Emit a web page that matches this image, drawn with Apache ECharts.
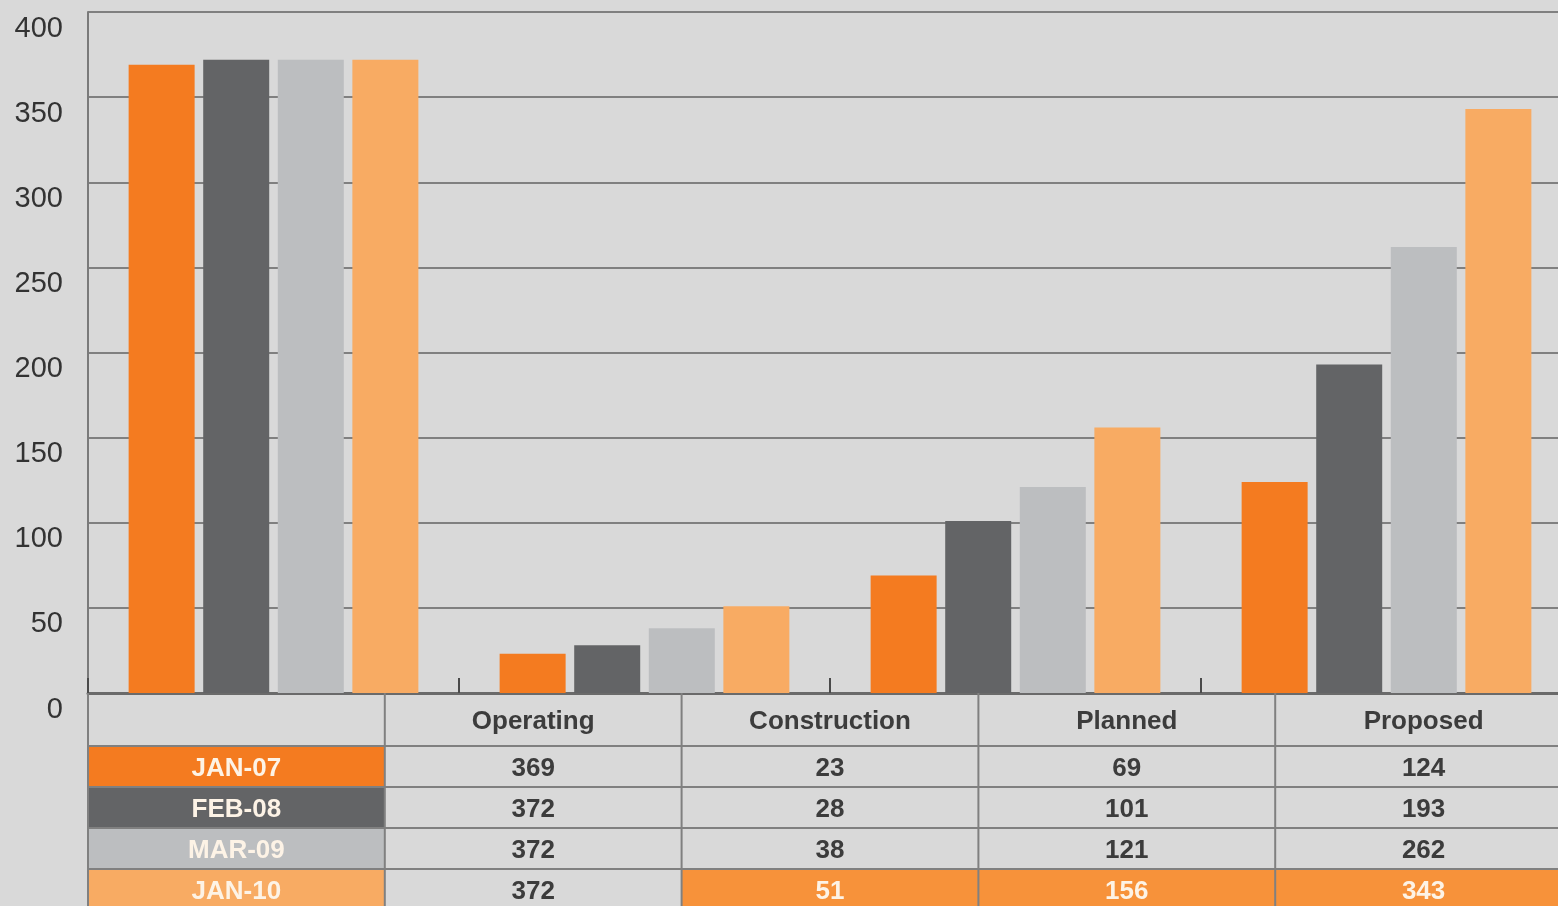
<!DOCTYPE html>
<html>
<head>
<meta charset="utf-8">
<script src="https://cdn.jsdelivr.net/npm/echarts@6/dist/echarts.min.js"></script>
<style>
  html, body { margin: 0; padding: 0; background: #d9d9d9; }
  #chart { width: 1558px; height: 906px; }
</style>
</head>
<body>
<div id="chart"></div>
<script>
// Project counts by status, four survey dates
const categories = ['Operating', 'Construction', 'Planned', 'Proposed'];
const periods = ['JAN-07', 'FEB-08', 'MAR-09', 'JAN-10'];
const jan07 = [369, 23, 69, 124];
const feb08 = [372, 28, 101, 193];
const mar09 = [372, 38, 121, 262];
const jan10 = [372, 51, 156, 343];
const yMin = 0;
const yMax = 400;
const yStep = 50;

const seriesValues = [jan07, feb08, mar09, jan10];
const colors = ['#f47b20', '#636466', '#bcbec0', '#f8ab63'];
const highlightFill = '#f7923a';

// Layout: the plot runs a little past the right edge of the canvas
const W = 1558, H = 906;
const grid = { left: 88, top: 12, width: 1484, bottom: 213 };
const plotLeft = grid.left;
const plotRight = grid.left + grid.width;
const plotBottom = H - grid.bottom;
const colW = (plotRight - plotLeft) / (categories.length + 1);
const headerH = 53;
const rowH = 41;
const FONT = '"Liberation Sans", Arial, Helvetica, sans-serif';
const gridColor = '#808080';
const textDark = '#3c3c3c';

// Data table drawn under the plot
const graphics = [];
const rowTop = i => plotBottom + headerH + i * rowH;
const colLeft = j => plotLeft + j * colW;
const isGrowth = j => jan10[j] > mar09[j];

periods.forEach((p, i) => {
  // coloured period label cell
  graphics.push({
    type: 'rect', z: 1,
    shape: { x: colLeft(0), y: rowTop(i), width: colW, height: rowH },
    style: { fill: colors[i] }
  });
  // cells where the latest survey grew over the previous one
  if (i === periods.length - 1) {
    categories.forEach((c, j) => {
      if (isGrowth(j)) {
        graphics.push({
          type: 'rect', z: 1,
          shape: { x: colLeft(j + 1), y: rowTop(i), width: colW, height: rowH },
          style: { fill: highlightFill }
        });
      }
    });
  }
});

// horizontal borders
for (let i = 0; i < periods.length; i++) {
  graphics.push({
    type: 'line', z: 2,
    shape: { x1: plotLeft, y1: rowTop(i), x2: plotRight, y2: rowTop(i) },
    style: { stroke: gridColor, lineWidth: 2 }
  });
}
// vertical borders
for (let j = 0; j <= categories.length; j++) {
  graphics.push({
    type: 'line', z: 2,
    shape: { x1: colLeft(j), y1: plotBottom, x2: colLeft(j), y2: H },
    style: { stroke: gridColor, lineWidth: 2 }
  });
}

// header texts
categories.forEach((c, j) => {
  graphics.push({
    type: 'text', z: 3,
    style: {
      text: c, x: colLeft(j + 1) + colW / 2, y: plotBottom + headerH / 2 + 2,
      align: 'center', verticalAlign: 'middle',
      font: 'bold 26px ' + FONT, fill: textDark
    }
  });
});

// row texts
periods.forEach((p, i) => {
  const cy = rowTop(i) + rowH / 2 + 2;
  graphics.push({
    type: 'text', z: 3,
    style: {
      text: p, x: colLeft(0) + colW / 2, y: cy,
      align: 'center', verticalAlign: 'middle',
      font: 'bold 26px ' + FONT, fill: '#fdf3e6'
    }
  });
  seriesValues[i].forEach((v, j) => {
    const hi = i === periods.length - 1 && isGrowth(j);
    graphics.push({
      type: 'text', z: 3,
      style: {
        text: String(v), x: colLeft(j + 1) + colW / 2, y: cy,
        align: 'center', verticalAlign: 'middle',
        font: 'bold 26px ' + FONT, fill: hi ? '#fdf3e6' : textDark
      }
    });
  });
});

const chart = echarts.init(document.getElementById('chart'), null, { renderer: 'canvas' });
chart.setOption({
  backgroundColor: '#d9d9d9',
  animation: false,
  grid: {
    left: grid.left, top: grid.top, width: grid.width, bottom: grid.bottom,
    containLabel: false, outerBoundsMode: 'none'
  },
  xAxis: {
    type: 'category',
    data: categories,
    axisLine: { show: true, lineStyle: { color: '#6a6a6a', width: 3 } },
    axisTick: { show: true, inside: true, length: 15, lineStyle: { color: '#4a4a4a', width: 2 } },
    axisLabel: { show: false },
    splitLine: { show: false }
  },
  yAxis: {
    type: 'value',
    min: yMin, max: yMax, interval: yStep,
    axisLine: { show: true, lineStyle: { color: '#7a7a7a', width: 2 } },
    axisTick: { show: false },
    axisLabel: {
      color: '#333333', fontSize: 29, fontFamily: FONT,
      margin: 25, verticalAlign: 'top', lineHeight: 33
    },
    splitLine: { show: true, lineStyle: { color: gridColor, width: 2 } }
  },
  series: periods.map((p, i) => ({
    name: p,
    type: 'bar',
    data: seriesValues[i],
    barWidth: 66,
    barGap: '13%',
    itemStyle: { color: colors[i] },
    z: 3
  })),
  graphic: graphics
});
</script>
</body>
</html>
